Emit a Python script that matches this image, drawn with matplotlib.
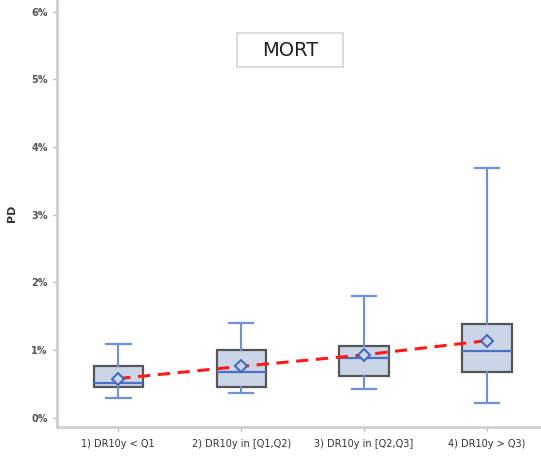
import matplotlib
matplotlib.use("Agg")
import matplotlib.pyplot as plt
from matplotlib.ticker import FuncFormatter, MultipleLocator
from matplotlib.patches import Rectangle

categories = ["1) DR10y < Q1", "2) DR10y in [Q1,Q2)", "3) DR10y in [Q2,Q3]", "4) DR10y > Q3)"]
whisker_low = [0.29, 0.37, 0.43, 0.22]
q1 = [0.45, 0.46, 0.625, 0.675]
median = [0.51, 0.675, 0.89, 0.98]
q3 = [0.76, 1.00, 1.06, 1.39]
whisker_high = [1.09, 1.40, 1.80, 3.69]
means = [0.58, 0.76, 0.93, 1.14]
title = "MORT"
ylabel = "PD"

W, H = 541, 457
fig = plt.figure(figsize=(W / 100, H / 100), dpi=100)
ax = fig.add_axes([0.105, 0.066, 0.895, 0.934])

stats = []
for i, c in enumerate(categories):
    stats.append(dict(label=c, whislo=whisker_low[i], q1=q1[i], med=median[i],
                      q3=q3[i], whishi=whisker_high[i], mean=means[i], fliers=[]))

pos = list(range(1, len(categories) + 1))
blue = "#6f90d2"
ax.bxp(stats, positions=pos, widths=0.4, patch_artist=True, showmeans=False,
       showfliers=False,
       boxprops=dict(facecolor="#cad6e8", edgecolor="#555555", linewidth=1.6),
       medianprops=dict(color="#4a72c0", linewidth=1.6),
       whiskerprops=dict(color=blue, linewidth=1.5),
       capprops=dict(color=blue, linewidth=1.6),
       capwidths=0.2, zorder=2)

ax.plot(pos, means, linestyle=(0, (4, 2.5)), color="#ff1a1a", linewidth=2.2, zorder=4)
ax.plot(pos, means, linestyle="none", marker="D", markersize=6, markerfacecolor="#cad6e8",
        markeredgecolor="#3f66b8", markeredgewidth=1.4, zorder=5)

ax.set_xlim(0.5, 4.44)
ax.set_ylim(-0.133, 6.17)
ax.yaxis.set_major_locator(MultipleLocator(1))
ax.yaxis.set_major_formatter(FuncFormatter(lambda v, p: f"{v:.0f}%"))
ax.set_xticks(pos)
ax.set_xticklabels(categories)

for s in ["top", "right"]:
    ax.spines[s].set_visible(False)
for s in ["left", "bottom"]:
    ax.spines[s].set_color("#cfcfcf")
    ax.spines[s].set_linewidth(2)

ax.tick_params(axis="both", colors="#bbbbbb", labelcolor="#333333", labelsize=7,
               length=3, width=1)
ax.tick_params(axis="x", pad=6)
for lab in ax.get_yticklabels():
    lab.set_fontweight("bold")
    lab.set_color("#555555")
ax.set_ylabel(ylabel, fontsize=8, color="#333333", labelpad=10, fontweight="bold")

# title box
fig.patches.append(Rectangle((237 / W, 1 - 67 / H), 106 / W, 34 / H, transform=fig.transFigure,
                             facecolor="white", edgecolor="#d5d5d5", linewidth=1.2, zorder=10))
fig.text(290 / W, 1 - 50 / H, title, ha="center", va="center", fontsize=14,
         color="#222222", zorder=11)

fig.savefig("out.png", dpi=100)
